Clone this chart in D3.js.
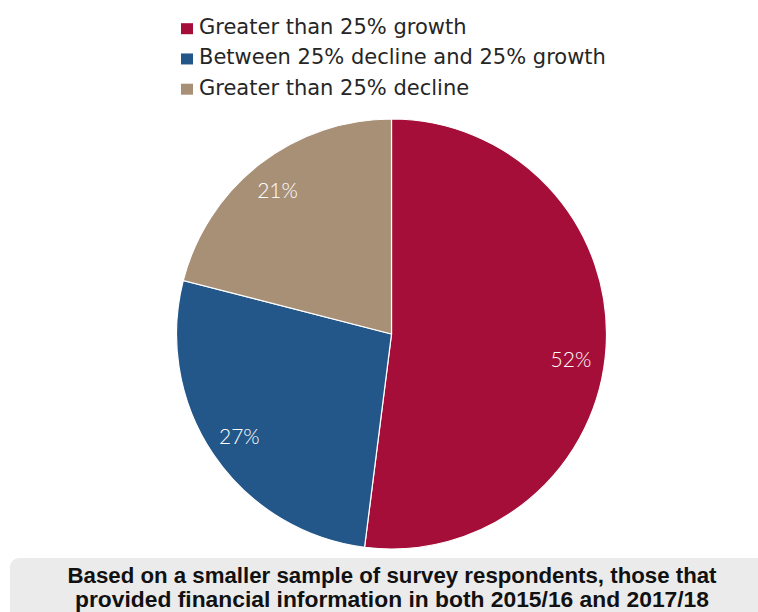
<!DOCTYPE html>
<html>
<head>
<meta charset="utf-8">
<script src="https://cdn.jsdelivr.net/npm/d3@7"></script>
<style>
  html, body { margin: 0; padding: 0; background: #fff; }
  svg { display: block; }
</style>
</head>
<body>
<svg id="chart" width="758" height="612"></svg>
<script>
// Share of respondents by change in income, 2015/16 to 2017/18
const categories = [
  "Greater than 25% growth",
  "Between 25% decline and 25% growth",
  "Greater than 25% decline"
];
const shares = [52, 27, 21];
const sliceColors = ["#a50e38", "#23578a", "#a89077"];
const noteLines = [
  "Based on a smaller sample of survey respondents, those that",
  "provided financial information in both 2015/16 and 2017/18"
];

const W = 758, H = 612;
const svg = d3.select("#chart");

// Pie geometry
const cx = 391.5, cy = 334, R = 215;
const labelR = R * 0.85;
// Nudge for each slice's value label
const labelNudge = [[-3, 14], [-1, 0], [-2, 1]];

const pie = d3.pie().sort(null).value(d => d)(shares);
const arc = d3.arc().innerRadius(0).outerRadius(R);
const labelArc = d3.arc().innerRadius(labelR).outerRadius(labelR);

const g = svg.append("g").attr("transform", `translate(${cx},${cy})`);

g.selectAll("path.slice")
  .data(pie)
  .join("path")
  .attr("class", "slice")
  .attr("d", arc)
  .attr("fill", (d, i) => sliceColors[i])
  .attr("stroke", "#ffffff")
  .attr("stroke-width", 1.2);

g.selectAll("text.val")
  .data(pie)
  .join("text")
  .attr("class", "val")
  .attr("transform", (d, i) => {
    const [x, y] = labelArc.centroid(d);
    return `translate(${x + labelNudge[i][0]},${y + labelNudge[i][1]})`;
  })
  .attr("text-anchor", "middle")
  .attr("dy", "0.36em")
  .attr("fill", "#ffffff")
  .style("font-family", "Lato, 'DejaVu Sans', sans-serif")
  .style("font-weight", 300)
  .style("font-size", "21px")
  .text(d => d.data + "%");

// Legend
const legend = svg.append("g").attr("transform", "translate(181,0)");
const rowY = d3.scalePoint().domain(categories).range([28.7, 89.2]);
const rows = legend.selectAll("g.row")
  .data(categories)
  .join("g")
  .attr("class", "row")
  .attr("transform", d => `translate(0,${rowY(d)})`);
rows.append("rect")
  .attr("x", 0).attr("y", -5.5)
  .attr("width", 12).attr("height", 11)
  .attr("fill", (d, i) => sliceColors[i]);
rows.append("text")
  .attr("x", 18).attr("y", 5.5)
  .attr("fill", "#262626")
  .style("font-family", "'DejaVu Sans', sans-serif")
  .style("font-size", "21px")
  .text(d => d);

// Note panel at the foot of the chart
svg.append("rect")
  .attr("x", 10).attr("y", 558)
  .attr("width", 780).attr("height", 100)
  .attr("rx", 9).attr("ry", 9)
  .attr("fill", "#ebebeb");

const noteWidths = [649, 634];
svg.selectAll("text.note")
  .data(noteLines)
  .join("text")
  .attr("class", "note")
  .attr("x", 392)
  .attr("y", (d, i) => 583 + i * 24)
  .attr("text-anchor", "middle")
  .attr("textLength", (d, i) => noteWidths[i])
  .attr("lengthAdjust", "spacingAndGlyphs")
  .attr("fill", "#111111")
  .style("font-family", "'Liberation Sans', Arial, sans-serif")
  .style("font-weight", 700)
  .style("font-size", "21.5px")
  .text(d => d);
</script>
</body>
</html>
